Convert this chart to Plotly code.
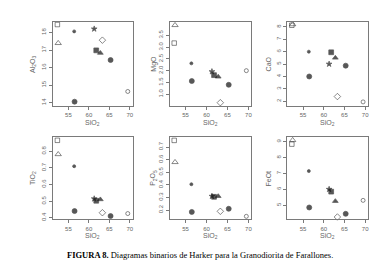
import plotly.graph_objects as go

# ---- data ----
sio2 = [52.3, 52.5, 56.4, 56.5, 61.3, 61.8, 62.8, 63.3, 65.3, 69.5]
al2o3 = [18.45, 17.39, 18.06, 14.06, 18.2, 16.98, 16.83, 17.56, 16.43, 14.64]
mgo = [3.17, 3.93, 2.31, 1.56, 1.96, 1.81, 1.74, 0.64, 1.40, 2.00]
cao = [8.13, 8.2, 6.0, 4.0, 5.0, 5.95, 5.5, 2.38, 4.87, 1.95]
tio2 = [0.866, 0.782, 0.71, 0.44, 0.514, 0.502, 0.51, 0.43, 0.41, 0.425]
p2o5 = [0.753, 0.58, 0.405, 0.185, 0.31, 0.305, 0.31, 0.19, 0.21, 0.15]
feot = [8.85, 9.1, 7.15, 4.85, 6.0, 5.85, 5.25, 4.25, 4.45, 5.3]

symbols = ["square-open", "triangle-up-open", "circle", "circle", "star",
           "square", "triangle-up", "diamond-open", "circle", "circle-open"]
sizes = [4.5, 5.5, 3, 5, 4.3, 4.8, 5, 5, 5, 4]

panels = [
    ("Al<sub>2</sub>O<sub>3</sub>", al2o3, [13.8, 18.6], [14, 15, 16, 17, 18], ["14", "15", "16", "17", "18"]),
    ("MgO", mgo, [0.49, 4.07], [1.0, 1.5, 2.0, 2.5, 3.0, 3.5], ["1.0", "1.5", "2.0", "2.5", "3.0", "3.5"]),
    ("CaO", cao, [1.6, 8.4], [2, 3, 4, 5, 6, 7, 8], ["2", "3", "4", "5", "6", "7", "8"]),
    ("TiO<sub>2</sub>", tio2, [0.39, 0.886], [0.4, 0.5, 0.6, 0.7, 0.8], ["0.4", "0.5", "0.6", "0.7", "0.8"]),
    ("P<sub>2</sub>O<sub>5</sub>", p2o5, [0.126, 0.78], [0.2, 0.3, 0.4, 0.5, 0.6, 0.7], ["0.2", "0.3", "0.4", "0.5", "0.6", "0.7"]),
    ("FeOt", feot, [4.1, 9.3], [5, 6, 7, 8, 9], ["5", "6", "7", "8", "9"]),
]
x_ticks = [55, 60, 65, 70]
x_range = [51.2, 70.7]

W, H = 385, 260
xdoms = [(45, 125), (162, 244), (280, 361)]
ydoms = [(14, 99), (130, 213)]
ytitle_x = [25, 146, 261]

fig = go.Figure()
gray = "#7a7a7a"
tgray = "#666666"
layout = dict(
    width=W, height=H, margin=dict(l=0, r=0, t=0, b=0),
    paper_bgcolor="white", plot_bgcolor="white", showlegend=False,
    font=dict(family="Liberation Sans, Arial, sans-serif", color=tgray, size=6),
)
annotations = []
for i, (name, vals, yr, yt, ytl) in enumerate(panels):
    r, c = divmod(i, 3)
    k = "" if i == 0 else str(i + 1)
    x0, x1 = xdoms[c]
    y0, y1 = ydoms[r]
    fig.add_trace(go.Scatter(
        x=sio2, y=vals, mode="markers", xaxis="x" + k, yaxis="y" + k,
        marker=dict(symbol=symbols, size=sizes, color="#111111",
                    line=dict(color="#111111", width=0.7)),
        cliponaxis=False,
    ))
    layout["xaxis" + k] = dict(
        domain=[x0 / W, x1 / W], range=x_range, anchor="y" + k,
        tickvals=x_ticks, ticks="outside", ticklen=3, tickcolor=gray, tickwidth=0.8,
        showgrid=False, zeroline=False, showline=True, linecolor=gray, linewidth=1,
        mirror=True, tickfont=dict(size=6, color=tgray),
    )
    layout["yaxis" + k] = dict(
        domain=[1 - y1 / H, 1 - y0 / H], range=yr, anchor="x" + k,
        tickvals=yt, ticktext=ytl, tickangle=-90,
        ticks="outside", ticklen=3, tickcolor=gray, tickwidth=0.8,
        showgrid=False, zeroline=False, showline=True, linecolor=gray, linewidth=1,
        mirror=True, tickfont=dict(size=6, color=tgray),
    )
    annotations.append(dict(
        text="SiO<sub>2</sub>", x=(x0 + x1) / 2 / W, y=1 - (y1 + 17) / H,
        xref="paper", yref="paper", showarrow=False,
        font=dict(size=7, color=tgray), xanchor="center", yanchor="middle",
    ))
    annotations.append(dict(
        text=name, x=ytitle_x[c] / W, y=1 - (y0 + y1) / 2 / H,
        xref="paper", yref="paper", showarrow=False, textangle=-90,
        font=dict(size=7, color=tgray), xanchor="center", yanchor="middle",
    ))

annotations.append(dict(
    text="<b>FIGURA 8.</b> Diagramas binarios de Harker para la Granodiorita de Farallones.",
    x=0.5, y=1 - 249 / H, xref="paper", yref="paper", showarrow=False,
    font=dict(size=8.5, color="#000000", family="Liberation Serif, Times New Roman, serif"),
    xanchor="center", yanchor="middle",
))
layout["annotations"] = annotations
fig.update_layout(**layout)
fig.write_html("out.html")
